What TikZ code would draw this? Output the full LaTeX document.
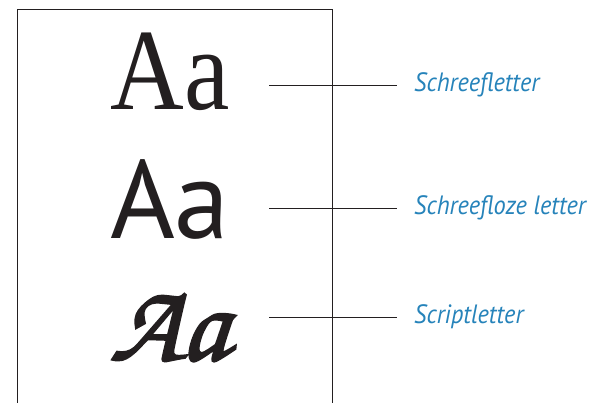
\documentclass[tikz,border=0pt]{standalone}
\usepackage{fontspec}
\setmainfont{Liberation Serif}
\newfontfamily\labfont[FakeStretch=0.92]{PT Sans}
\newfontfamily\sansglyph{PT Sans}
\newfontfamily\serifglyph[FakeStretch=0.88]{Liberation Serif}
\newfontfamily\scriptglyph[FakeBold=2,FakeSlant=0.1]{texgyrechorus-mediumitalic.otf}
\definecolor{ink}{RGB}{35,31,32}
\definecolor{labblue}{RGB}{38,131,186}
\tikzset{
  frame/.style={draw=ink, line width=1pt},
  leader/.style={draw=ink, line width=1pt},
  glyph/.style={inner sep=0pt, anchor=base, text=ink},
  lab/.style={inner sep=0pt, anchor=base west, text=labblue, font=\labfont\itshape\fontsize{26.5}{30}\selectfont}
}
\begin{document}
\begin{tikzpicture}[x=1pt,y=-1pt]
\useasboundingbox (0,0) rectangle (592,402);
\clip (0,0) rectangle (592,402);
\draw[frame] (17,410) -- (17,9) -- (332,9) -- (332,410);
\node[glyph, font=\serifglyph\fontsize{116}{120}\selectfont] (g1) at (170.5,109) {Aa};
\node[glyph, font=\sansglyph\fontsize{111}{120}\selectfont] (g2) at (170,238) {Aa};
\node[glyph, font=\scriptglyph\fontsize{112}{120}\selectfont] (g3) at (168,360) {Aa};
\node[lab] (l1) at (414,91) {Schreefletter};
\node[lab] (l2) at (414,214) {Schreefloze letter};
\node[lab] (l3) at (414,323) {Scriptletter};
\coordinate (s1) at (269,85);
\coordinate (e1) at (397,85);
\coordinate (s2) at (269,208);
\coordinate (e2) at (397,208);
\coordinate (s3) at (269,317);
\coordinate (e3) at (397,317);
\draw[leader] (s1) -- (e1);
\draw[leader] (s2) -- (e2);
\draw[leader] (s3) -- (e3);
\end{tikzpicture}
\end{document}
